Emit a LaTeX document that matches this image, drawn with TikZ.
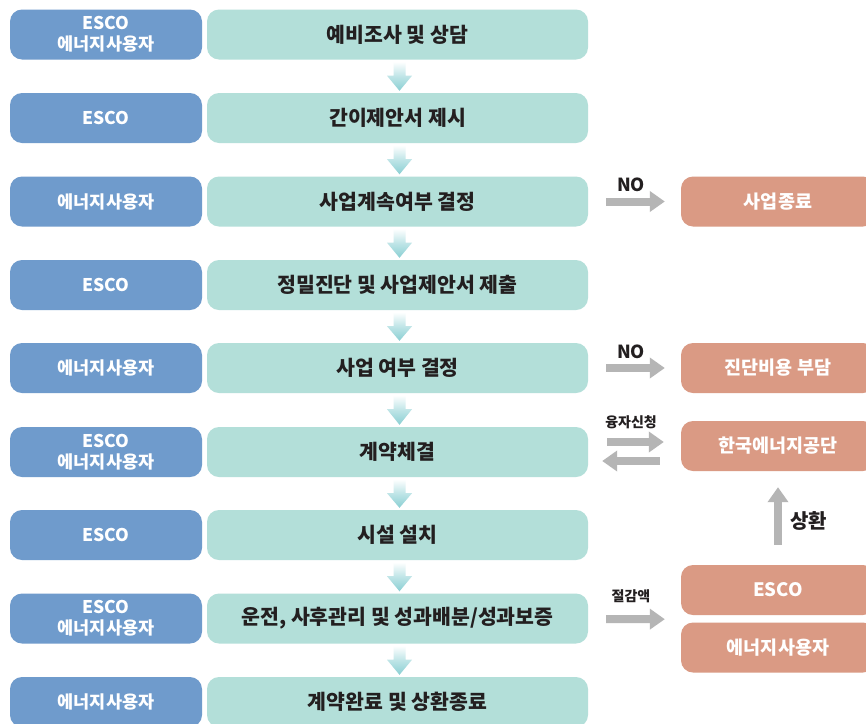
\documentclass[tikz,border=0pt]{standalone}
\usepackage{fontspec}
\newfontfamily\kr{Noto Sans CJK KR}
\usetikzlibrary{calc,arrows.meta}
\definecolor{lblue}{RGB}{111,155,204}
\definecolor{lgreen}{RGB}{179,223,217}
\definecolor{salmon}{RGB}{218,154,132}
\definecolor{garr}{RGB}{181,181,181}
\definecolor{tealarr}{RGB}{138,207,211}
\definecolor{ink}{RGB}{35,31,32}
\tikzset{
  who/.style={fill=lblue, rounded corners=12pt, minimum width=192pt, minimum height=50pt,
    text=white, align=center, font=\kr\bfseries\fontsize{17.5}{21}\selectfont, inner sep=0pt},
  stepbox/.style={fill=lgreen, rounded corners=12pt, minimum width=381pt, minimum height=50pt,
    text=ink, font=\kr\bfseries\fontsize{20.5}{22}\selectfont, inner sep=0pt},
  sidebox/.style={fill=salmon, rounded corners=12pt, minimum width=194pt, minimum height=50pt,
    text=white, font=\kr\bfseries\fontsize{18.5}{20}\selectfont, inner sep=0pt},
  garrow/.style={draw=garr, line width=8pt, -{Triangle[length=15pt,width=20pt]}},
  lbl/.style={text=ink, inner sep=0pt},
}
\newcommand{\flowarrow}[2]{%
  \shade[top color=white, bottom color=tealarr, middle color=tealarr!55]
    ($(#1.south)+(-4,2)$) -- ($(#1.south)+(8,2)$) -- ($(#1.south)+(8,16)$) -- ($(#1.south)+(14.5,16)$)
    -- ($(#2.north)+(2,-2)$) -- ($(#1.south)+(-10.5,16)$) -- ($(#1.south)+(-4,16)$) -- cycle;}
\begin{document}
\begin{tikzpicture}[x=1pt,y=-1pt]
\clip (0,0) rectangle (866,723);
\fill[white] (0,0) rectangle (866,723);
% left boxes
\node[who] (w1) at (106,34.5) {ESCO\\에너지사용자};
\node[who] (w2) at (106,118) {ESCO};
\node[who] (w3) at (106,201.5) {에너지사용자};
\node[who] (w4) at (106,285) {ESCO};
\node[who] (w5) at (106,368) {에너지사용자};
\node[who] (w6) at (106,452) {ESCO\\에너지사용자};
\node[who] (w7) at (106,535) {ESCO};
\node[who] (w8) at (106,618.5) {ESCO\\에너지사용자};
\node[who] (w9) at (106,702) {에너지사용자};
% steps
\node[stepbox] (g1) at (397.5,34.5) {예비조사 및 상담};
\node[stepbox] (g2) at (397.5,118) {간이제안서 제시};
\node[stepbox] (g3) at (397.5,201.5) {사업계속여부 결정};
\node[stepbox] (g4) at (397.5,285) {정밀진단 및 사업제안서 제출};
\node[stepbox] (g5) at (397.5,368) {사업 여부 결정};
\node[stepbox] (g6) at (397.5,452) {계약체결};
\node[stepbox] (g7) at (397.5,535) {시설 설치};
\node[stepbox] (g8) at (397.5,618.5) {운전, 사후관리 및 성과배분/성과보증};
\node[stepbox] (g9) at (397.5,702) {계약완료 및 상환종료};
\flowarrow{g1}{g2}
\flowarrow{g2}{g3}
\flowarrow{g3}{g4}
\flowarrow{g4}{g5}
\flowarrow{g5}{g6}
\flowarrow{g6}{g7}
\flowarrow{g7}{g8}
\flowarrow{g8}{g9}
% side boxes
\node[sidebox] (r1) at (778,201.5) {사업종료};
\node[sidebox] (r2) at (778,368) {진단비용 부담};
\node[sidebox] (r3) at (778,446) {한국에너지공단};
\node[sidebox] (r4) at (778,590) {ESCO};
\node[sidebox] (r5) at (778,647.5) {에너지사용자};
% gray arrows
\draw[garrow] ($(g3.east)+(18,0)$) -- ($(r1.west)+(-16,0)$);
\node[lbl, font=\kr\bfseries\fontsize{18}{20}\selectfont] (no1) at (631,185) {NO};
\draw[garrow] ($(g5.east)+(18,0)$) -- ($(r2.west)+(-16,0)$);
\node[lbl, font=\kr\bfseries\fontsize{18}{20}\selectfont] (no2) at (631,352) {NO};
\draw[garrow] ($(g6.east)+(19,-10)$) -- ($(r3.west)+(-17,-4)$);
\draw[garrow] ($(r3.west)+(-21,15)$) -- ($(g6.east)+(14,9)$);
\node[lbl, font=\kr\bfseries\fontsize{14}{16}\selectfont] (loan) at (631,422) {융자신청};
\draw[garrow] ($(g8.east)+(18,0.5)$) -- ($(r4.south west)+(-16,4)$);
\node[lbl, font=\kr\bfseries\fontsize{14}{16}\selectfont] (save) at (631,596) {절감액};
\draw[garrow] ($(r4.north)+(0,-20)$) -- ($(r3.south)+(0,16)$);
\node[lbl, font=\kr\bfseries\fontsize{20}{22}\selectfont, anchor=west] (repay) at (790,521) {상환};
\end{tikzpicture}
\end{document}
